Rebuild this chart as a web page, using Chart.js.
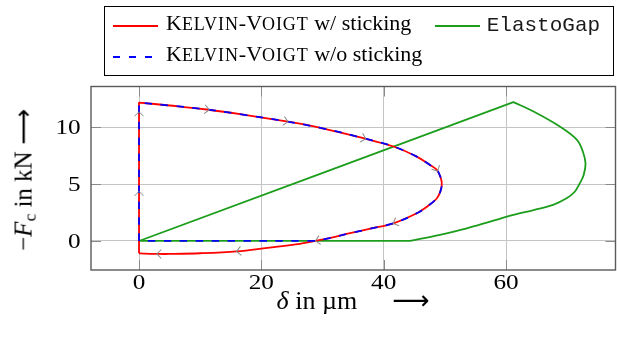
<!DOCTYPE html>
<html>
<head>
<meta charset="utf-8">
<script src="https://cdn.jsdelivr.net/npm/chart.js@4.4.0/dist/chart.umd.min.js"></script>
<style>
  html, body { margin: 0; padding: 0; background: #fff; }
  #wrap { position: relative; width: 617px; height: 343px; overflow: hidden; }
  #plot { position: absolute; left: 0; top: 0; }
  .serif { font-family: "Liberation Serif", "Times New Roman", serif; color: #000; white-space: nowrap; line-height: 1; position: absolute; }
  .mono { font-family: "Liberation Mono", "Courier New", monospace; color: #1a1a1a; white-space: nowrap; line-height: 1; position: absolute; }
  .sc small { font-size: 0.82em; letter-spacing: 0.9px; }
  #legend { position: absolute; left: 104px; top: 6px; width: 510px; height: 70px; border: 1px solid #000; box-sizing: border-box; }
  .sample { position: absolute; height: 2px; width: 45px; }
  .arrow { font-family: "DejaVu Sans", sans-serif; }
</style>
</head>
<body>
<div id="wrap">
  <canvas id="plot" width="617" height="343"></canvas>
  <div id="legend"></div>
  <div id="legendItems"></div>
  <div class="serif" id="xtitle" style="font-size:26px; left:353px; top:286.5px; transform:translateX(-50%);"><i>δ</i> in µm<span class="arrow" style="margin-left:35px;">⟶</span></div>
  <div class="serif" id="ytitle" style="font-size:25px; left:24.9px; top:180px; transform:translate(-50%,-50%) rotate(-90deg);">−<i>F</i><sub style="font-size:0.7em;vertical-align:-0.25em;">c</sub> in kN <span class="arrow">⟶</span></div>
</div>
<script>
// Axis ticks
const xTickValues = [0, 20, 40, 60];
const yTickValues = [0, 5, 10];

// Kelvin-Voigt with sticking: closed loop, starting at the foot of the vertical rise.
// Corner points are listed twice so the smoothed line keeps a sharp corner there.
const kvStickX = [0, 0, 0, 5, 11.07, 17, 24.1, 30, 36.7, 41.6, 45.4, 47.5, 48.7, 49.3, 49.5,
                  49.3, 48.7, 47.3, 45.4, 41.6, 38, 34.5, 31.5, 29.05, 26.3, 21, 16, 10, 5, 3.16, 1, 0];
const kvStickY = [-1.08, 12.16, 12.16, 11.9, 11.55, 11.1, 10.5, 9.9, 9.03, 8.3, 7.41, 6.7, 6.24, 5.6, 5.0,
                  4.4, 3.75, 3.1, 2.43, 1.55, 1.1, 0.68, 0.3, 0.03, -0.26, -0.6, -0.91, -1.08, -1.14, -1.14, -1.12, -1.08];

// Kelvin-Voigt without sticking: same loop, but it returns along the zero line
const kvFreeX = [0, 0, 0, 5, 11.07, 17, 24.1, 30, 36.7, 41.6, 45.4, 47.5, 48.7, 49.3, 49.5,
                 49.3, 48.7, 47.3, 45.4, 41.6, 38, 34.5, 31.5, 28.8, 28.8, 0];
const kvFreeY = [0, 12.16, 12.16, 11.9, 11.55, 11.1, 10.5, 9.9, 9.03, 8.3, 7.41, 6.7, 6.24, 5.6, 5.0,
                 4.4, 3.75, 3.1, 2.43, 1.55, 1.1, 0.68, 0.3, 0, 0, 0];

// ElastoGap
const gapX = [0, 61.2, 61.2, 64.5, 68.8, 71.6, 72.6, 73.0, 72.7, 72.1, 71.2, 69.9, 67.7, 64.5, 61.2, 57.4, 53.6, 49.0, 44.3, 44.3, 0];
const gapY = [0, 12.2, 12.2, 11.37, 10.05, 8.88, 7.8, 6.8, 5.8, 5.1, 4.3, 3.75, 3.17, 2.72, 2.29, 1.7, 1.11, 0.52, 0, 0, 0];

// Positions of the direction arrows along the sticking loop (fraction of path length)
const arrowFractions = [0.077, 0.177, 0.277, 0.377, 0.477, 0.577, 0.677, 0.777, 0.877, 0.977];

const RED = '#ff0000', BLUE = '#0000ff', GREEN = '#1c9e1c';
const DASH = [7.5, 8.5];
const TICK_FONT = '21px "Liberation Serif", "Times New Roman", serif';
const TICK_STRETCH = 1.2;

function pts(xs, ys) { return xs.map((x, i) => ({ x: x, y: ys[i] })); }

// Legend drawn as HTML so that the small caps render properly
const legendItems = document.getElementById('legendItems');
function addSample(left, top, color, dashed) {
  const d = document.createElement('div');
  d.className = 'sample';
  d.style.left = left + 'px';
  d.style.top = (top - 1) + 'px';
  d.style.background = dashed
    ? `repeating-linear-gradient(to right, ${color} 0 ${DASH[0]}px, transparent ${DASH[0]}px ${DASH[0] + DASH[1]}px)`
    : color;
  legendItems.appendChild(d);
}
function addText(cls, left, top, size, html) {
  const d = document.createElement('div');
  d.className = cls;
  d.style.left = left + 'px';
  d.style.top = top + 'px';
  d.style.fontSize = size + 'px';
  d.innerHTML = html;
  legendItems.appendChild(d);
}
addSample(113, 26, RED, false);
addText('serif sc', 166, 12.3, 22, 'K<small>ELVIN</small>-V<small>OIGT</small> w/ sticking');
addSample(113, 56.7, BLUE, true);
addText('serif sc', 166, 42.6, 22, 'K<small>ELVIN</small>-V<small>OIGT</small> w/o sticking');
addSample(435, 26, GREEN, false);
addText('mono', 486.7, 15.4, 21, 'ElastoGap');

// Frame, inward tick marks on all four sides, and the tick labels
const framePlugin = {
  id: 'frame',
  afterDraw(chart) {
    const { ctx, chartArea: a, scales: { x, y } } = chart;
    ctx.save();
    ctx.strokeStyle = '#8a8a8a';
    ctx.lineWidth = 1;
    const tl = 10;
    ctx.beginPath();
    xTickValues.forEach(v => {
      const px = Math.round(x.getPixelForValue(v)) + 0.5;
      ctx.moveTo(px, a.bottom); ctx.lineTo(px, a.bottom - tl);
      ctx.moveTo(px, a.top); ctx.lineTo(px, a.top + tl);
    });
    yTickValues.forEach(v => {
      const py = Math.round(y.getPixelForValue(v)) + 0.5;
      ctx.moveTo(a.left, py); ctx.lineTo(a.left + tl, py);
      ctx.moveTo(a.right, py); ctx.lineTo(a.right - tl, py);
    });
    ctx.stroke();
    ctx.strokeStyle = '#5a5a5a';
    ctx.lineWidth = 1.4;
    ctx.strokeRect(a.left, a.top, a.right - a.left, a.bottom - a.top);

    ctx.fillStyle = '#000';
    ctx.font = TICK_FONT;
    ctx.textBaseline = 'alphabetic';
    ctx.textAlign = 'center';
    xTickValues.forEach(v => {
      ctx.save();
      ctx.translate(x.getPixelForValue(v), a.bottom + 19);
      ctx.scale(TICK_STRETCH, 1);
      ctx.fillText(String(v), 0, 0);
      ctx.restore();
    });
    ctx.textAlign = 'right';
    yTickValues.forEach(v => {
      ctx.save();
      ctx.translate(a.left - 10.3, y.getPixelForValue(v) + 7.1);
      ctx.scale(TICK_STRETCH, 1);
      ctx.fillText(String(v), 0, 0);
      ctx.restore();
    });
    ctx.restore();
  }
};

// Chevrons showing the direction of travel along the sticking loop
const arrowPlugin = {
  id: 'dirArrows',
  afterDatasetsDraw(chart) {
    const { x, y } = chart.scales;
    const p = kvStickX.map((v, i) => ({ x: x.getPixelForValue(v), y: y.getPixelForValue(kvStickY[i]) }));
    const cum = [0];
    for (let i = 1; i < p.length; i++) cum.push(cum[i - 1] + Math.hypot(p[i].x - p[i - 1].x, p[i].y - p[i - 1].y));
    const total = cum[cum.length - 1];
    const ctx = chart.ctx;
    ctx.save();
    ctx.strokeStyle = '#8a8a8a';
    ctx.lineWidth = 1;
    arrowFractions.forEach(f => {
      const s = f * total;
      let i = 1;
      while (i < p.length - 1 && cum[i] < s) i++;
      const seg = cum[i] - cum[i - 1] || 1;
      const t = (s - cum[i - 1]) / seg;
      const px = p[i - 1].x + t * (p[i].x - p[i - 1].x);
      const py = p[i - 1].y + t * (p[i].y - p[i - 1].y);
      const ang = Math.atan2(p[i].y - p[i - 1].y, p[i].x - p[i - 1].x);
      ctx.save();
      ctx.translate(px, py);
      ctx.rotate(ang);
      ctx.beginPath();
      ctx.moveTo(-4, -4.5); ctx.lineTo(0.5, 0); ctx.lineTo(-4, 4.5);
      ctx.stroke();
      ctx.restore();
    });
    ctx.restore();
  }
};

new Chart(document.getElementById('plot'), {
  type: 'scatter',
  data: {
    datasets: [
      { label: 'ElastoGap', data: pts(gapX, gapY), borderColor: GREEN, showLine: true, order: 3 },
      { label: 'Kelvin-Voigt w/ sticking', data: pts(kvStickX, kvStickY), borderColor: RED, showLine: true, order: 2 },
      { label: 'Kelvin-Voigt w/o sticking', data: pts(kvFreeX, kvFreeY), borderColor: BLUE, borderDash: DASH, showLine: true, order: 1 }
    ]
  },
  options: {
    responsive: false,
    animation: false,
    devicePixelRatio: 1,
    layout: { padding: { top: 86.5, right: 1.5, left: 0, bottom: 0 } },
    elements: {
      point: { radius: 0, hoverRadius: 0 },
      line: { borderWidth: 1.8, tension: 0.35, fill: false, borderJoinStyle: 'round', capBezierPoints: false }
    },
    plugins: { legend: { display: false }, tooltip: { enabled: false } },
    scales: {
      x: {
        type: 'linear', min: -7.85, max: 77.9,
        afterBuildTicks: s => { s.ticks = xTickValues.map(v => ({ value: v })); },
        afterFit: s => { s.height = 73; },
        grid: { color: '#c4c4c4', lineWidth: 1, drawTicks: false },
        border: { display: false },
        ticks: { display: false }
      },
      y: {
        type: 'linear', min: -2.55, max: 13.57,
        afterBuildTicks: s => { s.ticks = yTickValues.map(v => ({ value: v })); },
        afterFit: s => { s.width = 91; },
        grid: { color: '#c4c4c4', lineWidth: 1, drawTicks: false },
        border: { display: false },
        ticks: { display: false }
      }
    }
  },
  plugins: [framePlugin, arrowPlugin]
});
</script>
</body>
</html>
